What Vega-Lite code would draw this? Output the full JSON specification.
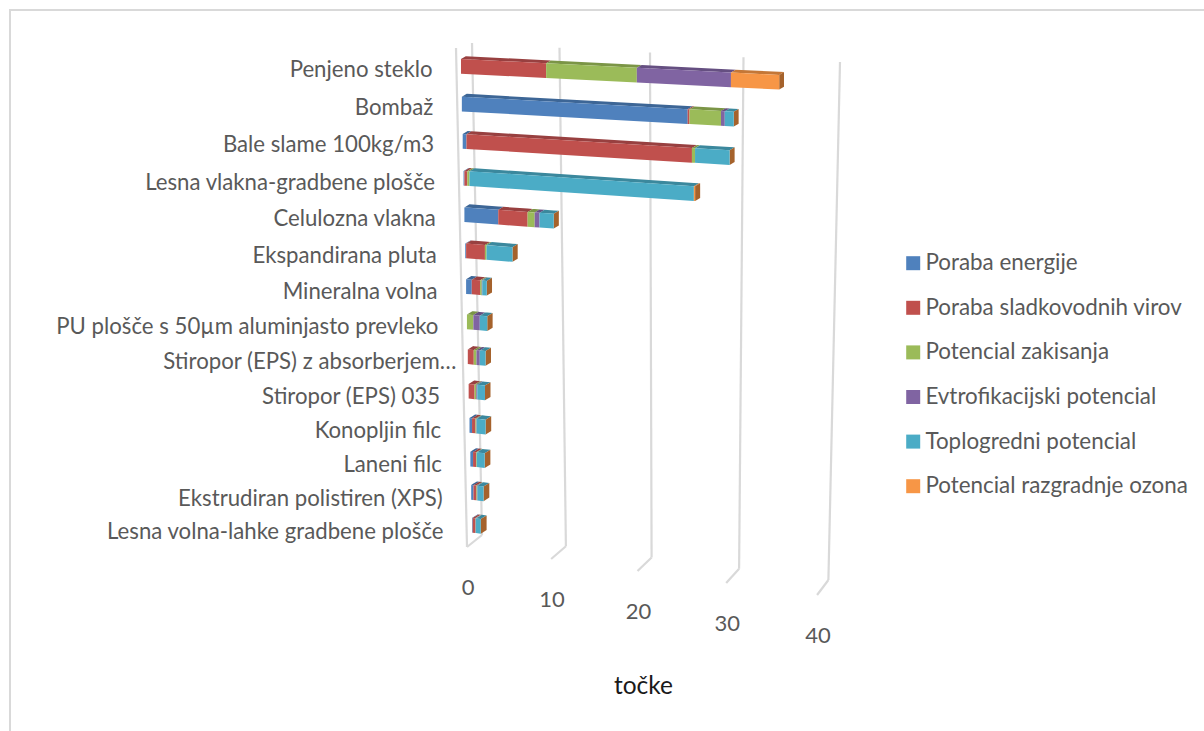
{
  "$schema": "https://vega.github.io/schema/vega-lite/v6.json",
  "width": 1204,
  "height": 731,
  "padding": 0,
  "autosize": {"type": "none"},
  "background": "white",
  "config": {"view": {"stroke": null}, "font": "Lato"},
  "datasets": {
    "ticks": [{"tick": 0}, {"tick": 10}, {"tick": 20}, {"tick": 30}, {"tick": 40}],
    "materials": [
      {"material": "Penjeno steklo"},
      {"material": "Bombaž"},
      {"material": "Bale slame 100kg/m3"},
      {"material": "Lesna vlakna-gradbene plošče"},
      {"material": "Celulozna vlakna"},
      {"material": "Ekspandirana pluta"},
      {"material": "Mineralna volna"},
      {"material": "PU plošče s 50µm aluminjasto prevleko"},
      {"material": "Stiropor (EPS) z absorberjem…"},
      {"material": "Stiropor (EPS) 035"},
      {"material": "Konopljin filc"},
      {"material": "Laneni filc"},
      {"material": "Ekstrudiran polistiren (XPS)"},
      {"material": "Lesna volna-lahke gradbene plošče"}
    ],
    "scores": [
      {"material": "Penjeno steklo", "series": "Poraba sladkovodnih virov", "value": 9.6},
      {"material": "Penjeno steklo", "series": "Potencial zakisanja", "value": 9.95},
      {"material": "Penjeno steklo", "series": "Evtrofikacijski potencial", "value": 10.05},
      {"material": "Penjeno steklo", "series": "Potencial razgradnje ozona", "value": 5.05},
      {"material": "Bombaž", "series": "Poraba energije", "value": 25.0},
      {"material": "Bombaž", "series": "Poraba sladkovodnih virov", "value": 0.2},
      {"material": "Bombaž", "series": "Potencial zakisanja", "value": 3.35},
      {"material": "Bombaž", "series": "Evtrofikacijski potencial", "value": 0.4},
      {"material": "Bombaž", "series": "Toplogredni potencial", "value": 0.95},
      {"material": "Bale slame 100kg/m3", "series": "Poraba energije", "value": 0.43},
      {"material": "Bale slame 100kg/m3", "series": "Poraba sladkovodnih virov", "value": 25.02},
      {"material": "Bale slame 100kg/m3", "series": "Potencial zakisanja", "value": 0.33},
      {"material": "Bale slame 100kg/m3", "series": "Toplogredni potencial", "value": 3.69},
      {"material": "Lesna vlakna-gradbene plošče", "series": "Poraba energije", "value": 0.1},
      {"material": "Lesna vlakna-gradbene plošče", "series": "Poraba sladkovodnih virov", "value": 0.33},
      {"material": "Lesna vlakna-gradbene plošče", "series": "Potencial zakisanja", "value": 0.26},
      {"material": "Lesna vlakna-gradbene plošče", "series": "Toplogredni potencial", "value": 24.96},
      {"material": "Lesna vlakna-gradbene plošče", "series": "Potencial razgradnje ozona", "value": 0.13},
      {"material": "Celulozna vlakna", "series": "Poraba energije", "value": 3.9},
      {"material": "Celulozna vlakna", "series": "Poraba sladkovodnih virov", "value": 3.35},
      {"material": "Celulozna vlakna", "series": "Potencial zakisanja", "value": 0.8},
      {"material": "Celulozna vlakna", "series": "Evtrofikacijski potencial", "value": 0.55},
      {"material": "Celulozna vlakna", "series": "Toplogredni potencial", "value": 1.6},
      {"material": "Ekspandirana pluta", "series": "Poraba energije", "value": 0.1},
      {"material": "Ekspandirana pluta", "series": "Poraba sladkovodnih virov", "value": 2.18},
      {"material": "Ekspandirana pluta", "series": "Potencial zakisanja", "value": 0.19},
      {"material": "Ekspandirana pluta", "series": "Toplogredni potencial", "value": 2.98},
      {"material": "Mineralna volna", "series": "Poraba energije", "value": 0.66},
      {"material": "Mineralna volna", "series": "Poraba sladkovodnih virov", "value": 0.97},
      {"material": "Mineralna volna", "series": "Potencial zakisanja", "value": 0.19},
      {"material": "Mineralna volna", "series": "Evtrofikacijski potencial", "value": 0.06},
      {"material": "Mineralna volna", "series": "Toplogredni potencial", "value": 0.52},
      {"material": "PU plošče s 50µm aluminjasto prevleko", "series": "Potencial zakisanja", "value": 0.75},
      {"material": "PU plošče s 50µm aluminjasto prevleko", "series": "Evtrofikacijski potencial", "value": 0.75},
      {"material": "PU plošče s 50µm aluminjasto prevleko", "series": "Toplogredni potencial", "value": 0.87},
      {"material": "Stiropor (EPS) z absorberjem…", "series": "Poraba sladkovodnih virov", "value": 0.7},
      {"material": "Stiropor (EPS) z absorberjem…", "series": "Potencial zakisanja", "value": 0.32},
      {"material": "Stiropor (EPS) z absorberjem…", "series": "Evtrofikacijski potencial", "value": 0.38},
      {"material": "Stiropor (EPS) z absorberjem…", "series": "Toplogredni potencial", "value": 0.68},
      {"material": "Stiropor (EPS) 035", "series": "Poraba sladkovodnih virov", "value": 0.7},
      {"material": "Stiropor (EPS) 035", "series": "Potencial zakisanja", "value": 0.2},
      {"material": "Stiropor (EPS) 035", "series": "Evtrofikacijski potencial", "value": 0.12},
      {"material": "Stiropor (EPS) 035", "series": "Toplogredni potencial", "value": 0.9},
      {"material": "Konopljin filc", "series": "Poraba energije", "value": 0.3},
      {"material": "Konopljin filc", "series": "Poraba sladkovodnih virov", "value": 0.4},
      {"material": "Konopljin filc", "series": "Potencial zakisanja", "value": 0.1},
      {"material": "Konopljin filc", "series": "Evtrofikacijski potencial", "value": 0.05},
      {"material": "Konopljin filc", "series": "Toplogredni potencial", "value": 1.05},
      {"material": "Laneni filc", "series": "Poraba energije", "value": 0.32},
      {"material": "Laneni filc", "series": "Poraba sladkovodnih virov", "value": 0.36},
      {"material": "Laneni filc", "series": "Potencial zakisanja", "value": 0.08},
      {"material": "Laneni filc", "series": "Toplogredni potencial", "value": 0.94},
      {"material": "Ekstrudiran polistiren (XPS)", "series": "Poraba energije", "value": 0.27},
      {"material": "Ekstrudiran polistiren (XPS)", "series": "Poraba sladkovodnih virov", "value": 0.33},
      {"material": "Ekstrudiran polistiren (XPS)", "series": "Potencial zakisanja", "value": 0.08},
      {"material": "Ekstrudiran polistiren (XPS)", "series": "Evtrofikacijski potencial", "value": 0.07},
      {"material": "Ekstrudiran polistiren (XPS)", "series": "Toplogredni potencial", "value": 0.72},
      {"material": "Lesna volna-lahke gradbene plošče", "series": "Poraba energije", "value": 0.08},
      {"material": "Lesna volna-lahke gradbene plošče", "series": "Poraba sladkovodnih virov", "value": 0.28},
      {"material": "Lesna volna-lahke gradbene plošče", "series": "Potencial zakisanja", "value": 0.06},
      {"material": "Lesna volna-lahke gradbene plošče", "series": "Evtrofikacijski potencial", "value": 0.05},
      {"material": "Lesna volna-lahke gradbene plošče", "series": "Toplogredni potencial", "value": 0.57}
    ]
  },
  "layer": [
    {
      "description": "Outer chart frame",
      "data": {"values": [{}]},
      "mark": {"type": "rule", "color": "#d9d9d9", "strokeWidth": 2},
      "encoding": {
        "x": {"datum": 10, "type": "quantitative", "scale": {"domain": [0, 1204], "nice": false, "zero": false}, "axis": {"title": "točke", "titleFont": "Lato", "titleFontSize": 24.5, "titleFontWeight": "normal", "titleColor": "#1a1a1a", "titleX": 643, "titleY": -57, "titleAnchor": "middle", "labels": false, "ticks": false, "domain": false, "grid": false}},
        "y": {"datum": 10, "type": "quantitative", "scale": {"domain": [731, 0], "nice": false, "zero": false}, "axis": null},
        "y2": {"datum": 731}
      }
    },
    {
      "data": {"values": [{}]},
      "mark": {"type": "rule", "color": "#d9d9d9", "strokeWidth": 2},
      "encoding": {
        "x": {"datum": 9, "type": "quantitative"},
        "x2": {"datum": 1204},
        "y": {"datum": 10, "type": "quantitative"}
      }
    },
    {
      "description": "Perspective gridlines of the value scale: back wall, floor and tick labels",
      "data": {"name": "ticks"},
      "transform": [
        {"calculate": "472 + 8.6 * datum.tick + 0.015 * datum.tick * datum.tick", "as": "wallTopX"},
        {"calculate": "43 + 0.475 * datum.tick", "as": "wallTopY"},
        {"calculate": "482 + 8.3 * datum.tick + 0.009 * datum.tick * datum.tick", "as": "wallFootX"},
        {"calculate": "535 + 1.125 * datum.tick", "as": "wallFootY"},
        {"calculate": "467 + 8.3 * datum.tick + 0.0113 * datum.tick * datum.tick", "as": "floorX"},
        {"calculate": "547 + 1.2 * datum.tick", "as": "floorY"},
        {"calculate": "588 + 1.2 * datum.tick", "as": "labelY"},
        {"calculate": "datum.floorX + 1", "as": "labelX"}
      ],
      "layer": [
        {
          "mark": {"type": "rule", "color": "#d9d9d9", "strokeWidth": 2.2},
          "encoding": {
            "x": {"field": "wallTopX", "type": "quantitative"},
            "x2": {"field": "wallFootX"},
            "y": {"field": "wallTopY", "type": "quantitative"},
            "y2": {"field": "wallFootY"}
          }
        },
        {
          "mark": {"type": "rule", "color": "#d9d9d9", "strokeWidth": 2.2},
          "encoding": {
            "x": {"field": "wallFootX", "type": "quantitative"},
            "x2": {"field": "floorX"},
            "y": {"field": "wallFootY", "type": "quantitative"},
            "y2": {"field": "floorY"}
          }
        },
        {
          "transform": [
            {"filter": "datum.tick === 0"},
            {"calculate": "456", "as": "sideTopX"},
            {"calculate": "48", "as": "sideTopY"}
          ],
          "mark": {"type": "rule", "color": "#d9d9d9", "strokeWidth": 2.2},
          "encoding": {
            "x": {"field": "sideTopX", "type": "quantitative"},
            "x2": {"field": "floorX"},
            "y": {"field": "sideTopY", "type": "quantitative"},
            "y2": {"field": "floorY"}
          }
        },
        {
          "mark": {"type": "text", "font": "Lato", "fontSize": 22, "color": "#595959", "align": "center", "baseline": "middle"},
          "encoding": {
            "x": {"field": "labelX", "type": "quantitative"},
            "y": {"field": "labelY", "type": "quantitative"},
            "text": {"field": "tick", "type": "nominal"}
          }
        }
      ]
    },
    {
      "description": "Material names on the receding left edge of the bars; the truncated name runs further right",
      "data": {"name": "materials"},
      "transform": [
        {"window": [{"op": "row_number", "as": "rowNo"}]},
        {"calculate": "datum.rowNo - 1", "as": "row"},
        {"calculate": "461 + 0.85 * datum.row - 28.5 + (datum.row === 8 ? 17 : 0)", "as": "nameX"},
        {"calculate": "59 + 37.9 * datum.row - 0.2 * datum.row * datum.row + 11 + 0.23 * datum.row", "as": "nameY"}
      ],
      "mark": {"type": "text", "font": "Lato", "fontSize": 22.2, "color": "#595959", "align": "right", "baseline": "middle"},
      "encoding": {
        "x": {"field": "nameX", "type": "quantitative"},
        "y": {"field": "nameY", "type": "quantitative"},
        "text": {"field": "material", "type": "nominal"}
      }
    },
    {
      "description": "3D stacked bars: stack each material, then project value and row to the page",
      "data": {"name": "scores"},
      "transform": [
        {"calculate": "indexof(['Poraba energije','Poraba sladkovodnih virov','Potencial zakisanja','Evtrofikacijski potencial','Toplogredni potencial','Potencial razgradnje ozona'], datum.series)", "as": "seriesOrder"},
        {"stack": "value", "groupby": ["material"], "sort": [{"field": "seriesOrder", "order": "ascending"}], "as": ["v0", "v1"]},
        {"calculate": "indexof(['Penjeno steklo','Bombaž','Bale slame 100kg/m3','Lesna vlakna-gradbene plošče','Celulozna vlakna','Ekspandirana pluta','Mineralna volna','PU plošče s 50µm aluminjasto prevleko','Stiropor (EPS) z absorberjem…','Stiropor (EPS) 035','Konopljin filc','Laneni filc','Ekstrudiran polistiren (XPS)','Lesna volna-lahke gradbene plošče'], datum.material)", "as": "row"},
        {"calculate": "461 + 0.85 * datum.row", "as": "x0"},
        {"calculate": "8.75 - 0.03 * datum.row", "as": "a"},
        {"calculate": "59 + 37.9 * datum.row - 0.2 * datum.row * datum.row", "as": "t0"},
        {"calculate": "0.05 + 0.0055 * datum.row", "as": "slope"},
        {"calculate": "datum.x0 + datum.v0 * (datum.a + 0.0125 * datum.v0)", "as": "xs"},
        {"calculate": "datum.x0 + datum.v1 * (datum.a + 0.0125 * datum.v1)", "as": "xe"},
        {"calculate": "4.8 + 0.08 * datum.row", "as": "dx"},
        {"calculate": "-2.8 - 0.06 * datum.row", "as": "dy"},
        {"calculate": "14.7", "as": "h"}
      ],
      "layer": [
        {
          "description": "Top faces of the bars, in a darker shade of each series",
          "transform": [
            {"calculate": "[0, 1, 2, 3]", "as": "corner"},
            {"flatten": ["corner"]},
            {"calculate": "datum.corner === 0 ? datum.xs : datum.corner === 1 ? datum.xs + datum.dx : datum.corner === 2 ? datum.xe : datum.xe + datum.dx", "as": "px"},
            {"calculate": "datum.px < datum.xs + datum.dx ? datum.t0 + datum.slope * (datum.xs - datum.x0) + (datum.px - datum.xs) / datum.dx * datum.dy : datum.t0 + datum.slope * (datum.px - datum.dx - datum.x0) + datum.dy", "as": "upper"},
            {"calculate": "datum.px <= datum.xe ? datum.t0 + datum.slope * (datum.px - datum.x0) : datum.t0 + datum.slope * (datum.xe - datum.x0) + (datum.px - datum.xe) / datum.dx * datum.dy", "as": "lower"}
          ],
          "mark": {"type": "area", "orient": "vertical", "opacity": 1},
          "encoding": {
            "x": {"field": "px", "type": "quantitative"},
            "y": {"field": "upper", "type": "quantitative", "stack": null},
            "y2": {"field": "lower"},
            "detail": {"field": "material", "type": "nominal"},
            "color": {
              "field": "series",
              "type": "nominal",
              "legend": null,
              "scale": {
                "domain": ["Poraba energije", "Poraba sladkovodnih virov", "Potencial zakisanja", "Evtrofikacijski potencial", "Toplogredni potencial", "Potencial razgradnje ozona"],
                "range": ["#3d6696", "#984040", "#7b9546", "#654f81", "#3b889d", "#c47737"]
              }
            }
          }
        },
        {
          "description": "Brown end caps at the far right of each bar",
          "transform": [
            {"joinaggregate": [{"op": "max", "field": "v1", "as": "vMax"}], "groupby": ["material"]},
            {"filter": "datum.v1 === datum.vMax"},
            {"calculate": "[0, 1]", "as": "corner"},
            {"flatten": ["corner"]},
            {"calculate": "datum.xe + datum.corner * datum.dx", "as": "px"},
            {"calculate": "datum.t0 + datum.slope * (datum.xe - datum.x0) + datum.corner * datum.dy", "as": "capTop"},
            {"calculate": "datum.capTop + datum.h", "as": "capBottom"}
          ],
          "mark": {"type": "area", "orient": "vertical", "color": "#a5622c", "opacity": 1},
          "encoding": {
            "x": {"field": "px", "type": "quantitative"},
            "y": {"field": "capTop", "type": "quantitative", "stack": null},
            "y2": {"field": "capBottom"},
            "detail": {"field": "material", "type": "nominal"}
          }
        },
        {
          "description": "Front faces of the stacked segments",
          "transform": [
            {"calculate": "[0, 1]", "as": "corner"},
            {"flatten": ["corner"]},
            {"calculate": "datum.corner === 0 ? datum.xs : datum.xe", "as": "px"},
            {"calculate": "datum.t0 + datum.slope * (datum.px - datum.x0)", "as": "faceTop"},
            {"calculate": "datum.faceTop + datum.h", "as": "faceBottom"}
          ],
          "mark": {"type": "area", "orient": "vertical", "opacity": 1},
          "encoding": {
            "x": {"field": "px", "type": "quantitative"},
            "y": {"field": "faceTop", "type": "quantitative", "stack": null},
            "y2": {"field": "faceBottom"},
            "detail": {"field": "material", "type": "nominal"},
            "color": {
              "field": "series",
              "type": "nominal",
              "scale": {
                "domain": ["Poraba energije", "Poraba sladkovodnih virov", "Potencial zakisanja", "Evtrofikacijski potencial", "Toplogredni potencial", "Potencial razgradnje ozona"],
                "range": ["#4f81bd", "#c0504d", "#9bbb59", "#8064a2", "#4bacc6", "#f79646"]
              },
              "legend": {
                "title": null,
                "orient": "none",
                "legendX": 902,
                "legendY": 252,
                "symbolType": "square",
                "symbolSize": 196,
                "symbolStrokeWidth": 0,
                "symbolOpacity": 1,
                "labelFont": "Lato",
                "labelFontSize": 22.4,
                "labelColor": "#595959",
                "labelOffset": 1,
                "labelLimit": 300,
                "rowPadding": 21.6
              }
            }
          }
        }
      ],
      "resolve": {"scale": {"color": "independent"}}
    }
  ]
}
